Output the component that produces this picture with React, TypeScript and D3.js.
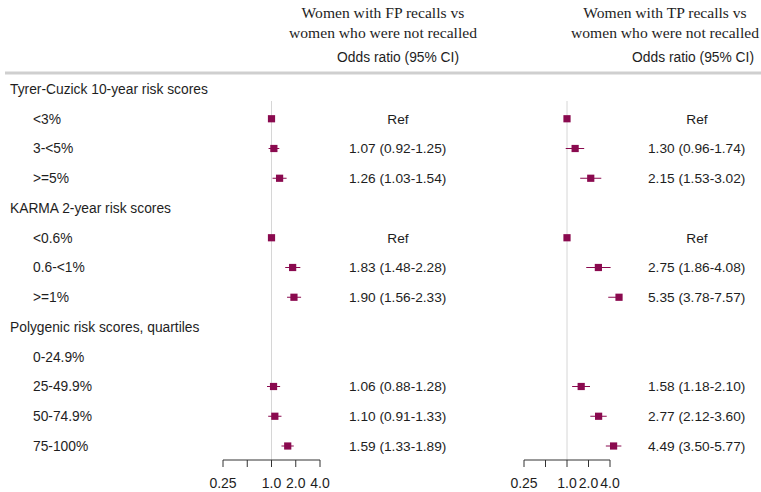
import React from "react";
import * as d3 from "d3";

const rowLabels = [
  "Tyrer-Cuzick 10-year risk scores", "<3%", "3-<5%", ">=5%",
  "KARMA 2-year risk scores", "<0.6%", "0.6-<1%", ">=1%",
  "Polygenic risk scores, quartiles", "0-24.9%", "25-49.9%", "50-74.9%", "75-100%",
];
const isGroup = [true, false, false, false, true, false, false, false, true, false, false, false, false];

// FP recalls: null = no estimate; "Ref" rows plotted at 1
const fpOR = [null, 1, 1.07, 1.26, null, 1, 1.83, 1.90, null, null, 1.06, 1.10, 1.59];
const fpLo = [null, 1, 0.92, 1.03, null, 1, 1.48, 1.56, null, null, 0.88, 0.91, 1.33];
const fpHi = [null, 1, 1.25, 1.54, null, 1, 2.28, 2.33, null, null, 1.28, 1.33, 1.89];
const fpText = [null, "Ref", "1.07 (0.92-1.25)", "1.26 (1.03-1.54)", null, "Ref", "1.83 (1.48-2.28)", "1.90 (1.56-2.33)", null, null, "1.06 (0.88-1.28)", "1.10 (0.91-1.33)", "1.59 (1.33-1.89)"];

const tpOR = [null, 1, 1.30, 2.15, null, 1, 2.75, 5.35, null, null, 1.58, 2.77, 4.49];
const tpLo = [null, 1, 0.96, 1.53, null, 1, 1.86, 3.78, null, null, 1.18, 2.12, 3.50];
const tpHi = [null, 1, 1.74, 3.02, null, 1, 4.08, 7.57, null, null, 2.10, 3.60, 5.77];
const tpText = [null, "Ref", "1.30 (0.96-1.74)", "2.15 (1.53-3.02)", null, "Ref", "2.75 (1.86-4.08)", "5.35 (3.78-7.57)", null, null, "1.58 (1.18-2.10)", "2.77 (2.12-3.60)", "4.49 (3.50-5.77)"];

const tickValues = [0.25, 0.5, 1, 2, 4];
const tickLabels = ["0.25", "", "1.0", "2.0", "4.0"];
const ciDrawMax = 5.9;

const W = 761, H = 492;
const MARK = "#8a0a4f";
const TXT = "#1e1e1e";
const SANS = "Liberation Sans, Arial, sans-serif";
const SERIF = "Liberation Serif, Times New Roman, serif";
const FS = 13.7;

const y = d3.scaleLinear().domain([0, 12]).range([89, 446]);

type Panel = {
  title: string[];
  titleX: number;
  oddsX: number;
  x: d3.ScaleLogarithmic<number, number>;
  or: (number | null)[];
  lo: (number | null)[];
  hi: (number | null)[];
  text: (string | null)[];
  textX: number;
  refX: number;
};

const panels: Panel[] = [
  {
    title: ["Women with FP recalls vs", "women who were not recalled"],
    titleX: 383,
    oddsX: 459,
    x: d3.scaleLog().base(2).domain([0.25, 4]).range([223, 320]),
    or: fpOR, lo: fpLo, hi: fpHi, text: fpText,
    textX: 349, refX: 398,
  },
  {
    title: ["Women with TP recalls vs", "women who were not recalled"],
    titleX: 665,
    oddsX: 754,
    x: d3.scaleLog().base(2).domain([0.25, 4]).range([524, 610]),
    or: tpOR, lo: tpLo, hi: tpHi, text: tpText,
    textX: 648, refX: 697,
  },
];

const axisY = 460;

export default function App() {
  return (
    <svg width={W} height={H} style={{ position: "absolute", left: 0, top: 0, background: "#fff" }}>
      {panels.map((p, pi) => (
        <g key={"h" + pi}>
          {p.title.map((t, i) => (
            <text key={i} x={p.titleX} y={18 + i * 20} textAnchor="middle" fontFamily={SERIF} fontSize={15.6} fill={TXT}>{t}</text>
          ))}
          <text x={p.oddsX} y={62} textAnchor="end" fontFamily={SANS} fontSize={13.8} fill={TXT}>Odds ratio (95% CI)</text>
        </g>
      ))}
      <line x1={5} x2={W} y1={73} y2={73} stroke="#cfcfcf" strokeWidth={3} />

      {rowLabels.map((l, i) => (
        <text key={"r" + i} x={isGroup[i] ? 10 : 33} y={y(i)} dy="0.35em" fontFamily={SANS} fontSize={13.8} fill={TXT}>{l}</text>
      ))}

      {panels.map((p, pi) => {
        const x = p.x;
        return (
          <g key={"p" + pi}>
            <line x1={x(1)} x2={x(1)} y1={101} y2={axisY} stroke="#d6d6d6" strokeWidth={1} />
            {p.or.map((v, i) => {
              if (v == null) return null;
              const cx = x(v);
              const lo = p.lo[i] as number;
              const hi = Math.min(p.hi[i] as number, ciDrawMax);
              return (
                <g key={i}>
                  <line x1={x(lo)} x2={x(hi)} y1={y(i)} y2={y(i)} stroke={MARK} strokeWidth={1} />
                  <rect x={cx - 3.6} y={y(i) - 3.6} width={7.2} height={7.2} fill={MARK} />
                </g>
              );
            })}
            {p.text.map((t, i) => {
              if (t == null) return null;
              const isRef = t === "Ref";
              return (
                <text key={"t" + i} x={isRef ? p.refX : p.textX} y={y(i)} dy="0.35em" textAnchor={isRef ? "middle" : "start"} fontFamily={SANS} fontSize={FS} fill={TXT}>{t}</text>
              );
            })}
            <line x1={x(tickValues[0])} x2={x(tickValues[tickValues.length - 1])} y1={axisY} y2={axisY} stroke="#333" strokeWidth={1} />
            {tickValues.map((tv, i) => (
              <g key={"k" + i}>
                <line x1={x(tv)} x2={x(tv)} y1={axisY} y2={axisY + 7} stroke="#333" strokeWidth={1} />
                {tickLabels[i] && (
                  <text x={x(tv)} y={488} textAnchor="middle" fontFamily={SANS} fontSize={14} fill={TXT}>{tickLabels[i]}</text>
                )}
              </g>
            ))}
          </g>
        );
      })}
    </svg>
  );
}
